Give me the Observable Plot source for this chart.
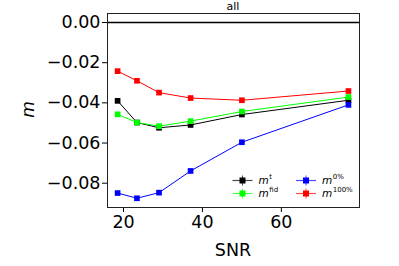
<!DOCTYPE html>
<html><head><meta charset="utf-8">
<script src="https://cdn.jsdelivr.net/npm/d3@7"></script>
<script src="https://cdn.jsdelivr.net/npm/@observablehq/plot@0.6"></script>
<style>body{margin:0;background:#fff;} svg{display:block;}</style>
</head><body><div id="chart"></div>
<script>
const snr = [18.5, 23.4, 29.0, 37.0, 50.0, 77.0];
const mT = [-0.0390, -0.0498, -0.0524, -0.0510, -0.0458, -0.0387];
const mFid = [-0.0457, -0.0498, -0.0516, -0.0491, -0.0443, -0.0371];
const m0 = [-0.0849, -0.0875, -0.0847, -0.0739, -0.0596, -0.0410];
const m100 = [-0.0242, -0.0290, -0.0349, -0.0376, -0.0387, -0.0341];
const seriesNames = ["t", "fid", "0%", "100%"];
const seriesColors = ["#000000", "#00ff00", "#0000ff", "#ff0000"];
const xTicks = [20, 40, 60];
const yTicks = [0, -0.02, -0.04, -0.06, -0.08];

const allVals = [mT, mFid, m0, m100];
const data = [];
allVals.forEach((vals, i) => vals.forEach((v, j) => data.push({series: seriesNames[i], x: snr[j], y: v})));

const fmtY = d => d === 0 ? "0.00" : (d < 0 ? "\u2212" : "") + Math.abs(d).toFixed(2);

const plot = Plot.plot({
  width: 399, height: 266,
  marginLeft: 107, marginRight: 40, marginTop: 13, marginBottom: 59,
  style: {fontFamily: "DejaVu Sans", fontSize: "17.5px", background: "white", color: "black"},
  x: {domain: [15.94, 79.8], ticks: xTicks, label: null, tickSize: 5, tickPadding: 3},
  y: {domain: [-0.0921, 0.0045], ticks: yTicks, tickFormat: fmtY, label: null, tickSize: 5, tickPadding: 2},
  color: {domain: seriesNames, range: seriesColors},
  marks: [
    Plot.ruleY([0], {stroke: "black", strokeWidth: 1.5}),
    Plot.line(data, {x: "x", y: "y", z: "series", stroke: "series", strokeWidth: 1}),
    Plot.dot(data, {x: "x", y: "y", fill: "series", symbol: "square", r: 3.2}),
    Plot.frame({stroke: "#222", strokeWidth: 1})
  ]
});
document.getElementById("chart").appendChild(plot);

const svg = d3.select(plot);
const ff = "DejaVu Sans";
svg.append("text").attr("x", 233).attr("y", 10).attr("text-anchor", "middle")
  .attr("font-family", ff).attr("font-size", 11).text("all");
svg.append("text").attr("x", 233).attr("y", 256).attr("text-anchor", "middle")
  .attr("font-family", ff).attr("font-size", 17.5).text("SNR");
svg.append("text").attr("transform", "translate(33.5,109.5) rotate(-90)").attr("text-anchor", "middle")
  .attr("font-family", ff).attr("font-size", 17).attr("font-style", "italic").text("m");

const legPos = [[232.5, 180.5], [232.5, 193.5], [296, 180.5], [296, 193.5]];
seriesNames.forEach((name, i) => {
  const [lx, ly] = legPos[i];
  const g = svg.append("g");
  const c = seriesColors[i];
  g.append("line").attr("x1", lx).attr("x2", lx + 20).attr("y1", ly).attr("y2", ly).attr("stroke", c).attr("stroke-opacity", 0.7).attr("stroke-width", 1.2);
  g.append("line").attr("x1", lx + 10).attr("x2", lx + 10).attr("y1", ly - 5).attr("y2", ly + 5).attr("stroke", c).attr("stroke-opacity", 0.7).attr("stroke-width", 1);
  g.append("rect").attr("x", lx + 7).attr("y", ly - 3).attr("width", 6).attr("height", 6).attr("fill", c);
  const t = g.append("text").attr("x", lx + 26).attr("y", ly + 3).attr("text-anchor", "start")
    .attr("font-family", ff).attr("font-size", 10.5);
  t.append("tspan").attr("font-style", "italic").text("m");
  t.append("tspan").attr("font-size", 7).attr("dy", -4.5).attr("dx", 0.5).text(name);
});
</script></body></html>
